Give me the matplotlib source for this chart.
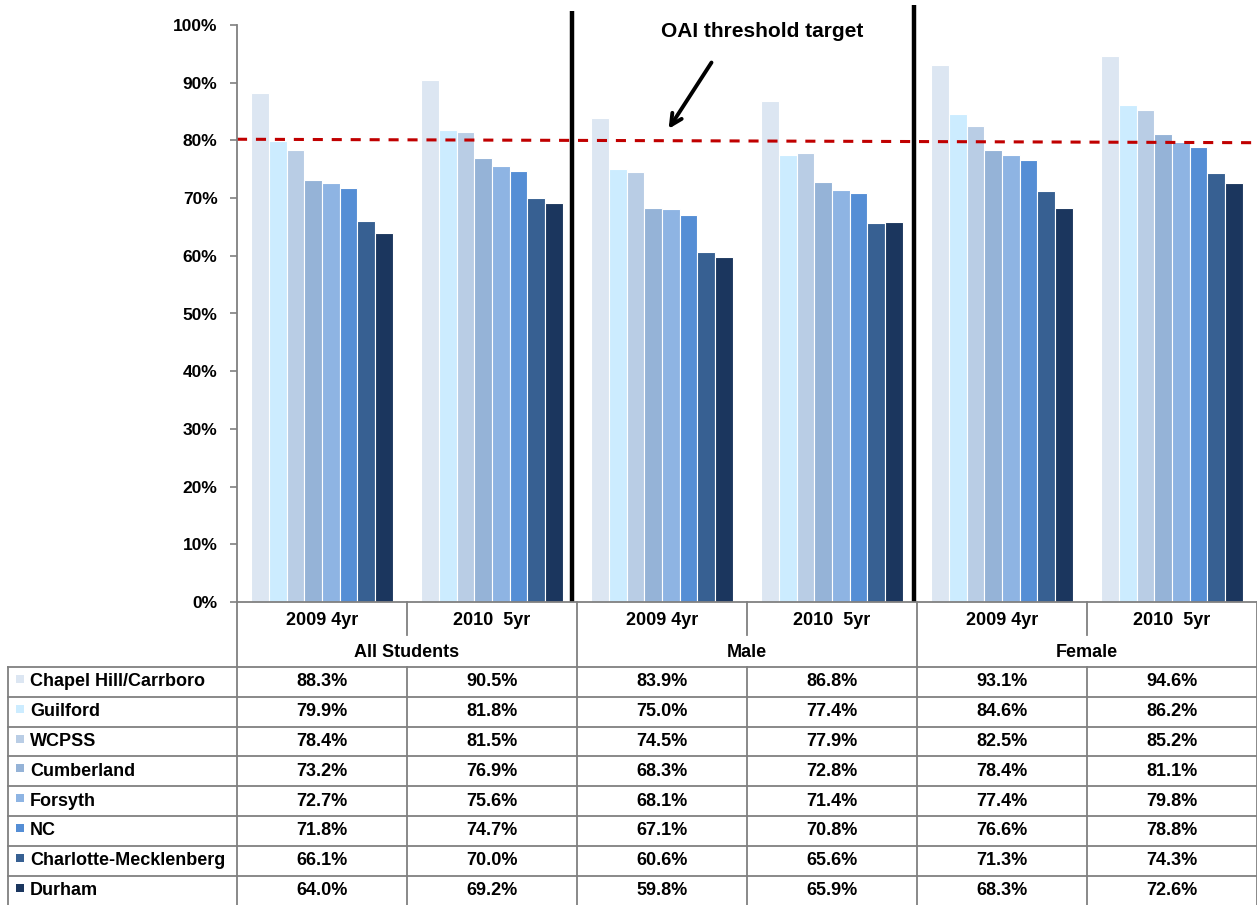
import matplotlib.pyplot as plt
import numpy as np

plt.rcParams['font.family'] = ['Liberation Sans', 'DejaVu Sans']
plt.rcParams['font.weight'] = 'bold'

districts = ["Chapel Hill/Carrboro", "Guilford", "WCPSS", "Cumberland",
             "Forsyth", "NC", "Charlotte-Mecklenberg", "Durham"]
colors = ["#DCE6F2", "#CCECFF", "#B9CDE5", "#95B3D7",
          "#8EB4E3", "#558ED5", "#376092", "#1B365E"]
cohorts = ["2009 4yr", "2010  5yr"] * 3
groups = ["All Students", "Male", "Female"]

# rows = districts, columns = All 09, All 10, Male 09, Male 10, Female 09, Female 10
rates = np.array([
    [88.3, 90.5, 83.9, 86.8, 93.1, 94.6],
    [79.9, 81.8, 75.0, 77.4, 84.6, 86.2],
    [78.4, 81.5, 74.5, 77.9, 82.5, 85.2],
    [73.2, 76.9, 68.3, 72.8, 78.4, 81.1],
    [72.7, 75.6, 68.1, 71.4, 77.4, 79.8],
    [71.8, 74.7, 67.1, 70.8, 76.6, 78.8],
    [66.1, 70.0, 60.6, 65.6, 71.3, 74.3],
    [64.0, 69.2, 59.8, 65.9, 68.3, 72.6],
])
target = [80.2, 79.6]

W, H = 1257, 905
fig = plt.figure(figsize=(W / 100, H / 100), dpi=100)

x0, x1, ytop, ybot = 237, 1257, 25, 602
ax = fig.add_axes([x0 / W, 1 - ybot / H, (x1 - x0) / W, (ybot - ytop) / H])

ncol = rates.shape[1]
bw = 0.1044
for j in range(len(districts)):
    xs = np.arange(ncol) + 0.5 + (j - 3.5) * bw
    ax.bar(xs, rates[j], width=bw, color=colors[j], edgecolor="white", linewidth=0.8)

ax.plot([0, ncol], target, color="#C00000", lw=2.2, ls=(0, (3.3, 2.9)), clip_on=False)

# separators between student groups
ax.plot([1.97, 1.97], [0, 102.5], color="black", lw=3.2, clip_on=False,
        solid_capstyle="butt")
ax.plot([3.98, 3.98], [0, 103.4], color="black", lw=3.2, clip_on=False,
        solid_capstyle="butt")

ax.text(3.09, 98.8, "OAI threshold target", ha="center", va="center", fontsize=15)
ax.annotate("", xy=(2.53, 81.6), xytext=(2.80, 93.9),
            arrowprops=dict(arrowstyle="->,head_length=0.8,head_width=0.4",
                            color="black", lw=2.8))

ax.set_xlim(0, ncol)
ax.set_ylim(0, 100)
ax.set_yticks(np.arange(0, 101, 10))
ax.set_yticklabels([f"{v}%" for v in range(0, 101, 10)], fontsize=12.5, fontweight="bold")
ax.set_xticks([])
ax.tick_params(axis="y", length=5, width=1.2, color="#808080", pad=9)
for s in ["top", "right"]:
    ax.spines[s].set_visible(False)
for s in ["left", "bottom"]:
    ax.spines[s].set_color("#808080")
    ax.spines[s].set_linewidth(1.3)

# table below, in pixel coordinates
tb = fig.add_axes([0, 0, 1, 1])
tb.set_xlim(0, W)
tb.set_ylim(H, 0)
tb.axis("off")
gc = "#808080"
cw = (x1 - x0) / ncol
bounds = [x0 + cw * i for i in range(ncol + 1)]
row_top = 667
rh = 29.8
left = 8

for i, bx in enumerate(bounds):
    if i % 2 == 0:
        tb.plot([bx, bx], [ybot, H], color=gc, lw=1.3)
    else:
        tb.plot([bx, bx], [ybot, 635], color=gc, lw=1.3)
        tb.plot([bx, bx], [row_top, H], color=gc, lw=1.3)
tb.plot([left, left], [row_top, H], color=gc, lw=1.3)
for k in range(len(districts)):
    y = row_top + rh * k
    tb.plot([left, x1], [y, y], color=gc, lw=1.3)

for i, lab in enumerate(cohorts):
    tb.text(bounds[i] + cw / 2, 620, lab, ha="center", va="center", fontsize=13)
for g, lab in enumerate(groups):
    tb.text(bounds[2 * g] + cw, 652, lab, ha="center", va="center", fontsize=13)

for k, name in enumerate(districts):
    yc = row_top + rh * k + rh / 2
    tb.add_patch(plt.Rectangle((16, yc - 7), 8, 8, color=colors[k], lw=0))
    tb.text(30, yc, name, ha="left", va="center", fontsize=13)
    for i in range(ncol):
        tb.text(bounds[i] + cw / 2, yc, f"{rates[k, i]:.1f}%",
                ha="center", va="center", fontsize=13)

fig.savefig("out.png", dpi=100)
